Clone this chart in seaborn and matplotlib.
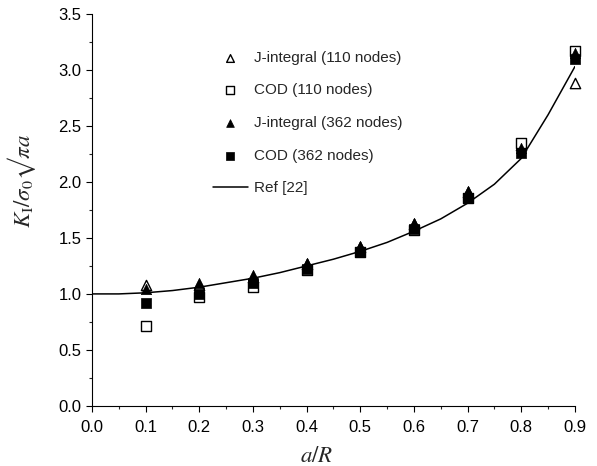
import matplotlib
matplotlib.use("Agg")
import matplotlib.pyplot as plt
import numpy as np
import pandas as pd
import seaborn as sns
from matplotlib.ticker import MultipleLocator, FormatStrFormatter

# a/R values where the FEM results were computed
a_r = [0.1, 0.2, 0.3, 0.4, 0.5, 0.6, 0.7, 0.8, 0.9]
j_110 = [1.08, 1.08, 1.15, 1.27, 1.42, 1.62, 1.91, 2.33, 2.88]
cod_110 = [0.71, 0.97, 1.06, 1.21, 1.37, 1.57, 1.86, 2.35, 3.17]
j_362 = [1.04, 1.10, 1.17, 1.28, 1.43, 1.63, 1.92, 2.30, 3.15]
cod_362 = [0.92, 1.00, 1.10, 1.22, 1.37, 1.58, 1.86, 2.26, 3.10]

# reference solution curve
ref_x = [0.0, 0.05, 0.1, 0.15, 0.2, 0.25, 0.3, 0.35, 0.4, 0.45, 0.5,
         0.55, 0.6, 0.65, 0.7, 0.75, 0.8, 0.85, 0.9]
ref_y = [1.0, 1.0, 1.01, 1.03, 1.06, 1.10, 1.14, 1.19, 1.25, 1.31, 1.38,
         1.46, 1.56, 1.67, 1.81, 1.98, 2.21, 2.60, 3.03]

sns.set_style("ticks")
plt.rcParams['font.family'] = ['Liberation Sans', 'DejaVu Sans']
plt.rcParams['mathtext.fontset'] = 'stix'

fig = plt.figure(figsize=(5.97, 4.66), dpi=100)
ax = fig.add_axes([0.154, 0.129, 0.809, 0.841])

ms = 55
sns.scatterplot(x=a_r, y=j_110, marker='^', s=ms, facecolor='white',
                edgecolor='black', linewidth=1.0, ax=ax, clip_on=False,
                label='J-integral (110 nodes)', zorder=3)
sns.scatterplot(x=a_r, y=cod_110, marker='s', s=ms, facecolor='white',
                edgecolor='black', linewidth=1.0, ax=ax, clip_on=False,
                label='COD (110 nodes)', zorder=3)
sns.scatterplot(x=a_r, y=j_362, marker='^', s=ms, color='black',
                edgecolor='black', linewidth=0.5, ax=ax, clip_on=False,
                label='J-integral (362 nodes)', zorder=4)
sns.scatterplot(x=a_r, y=cod_362, marker='s', s=ms, color='black',
                edgecolor='black', linewidth=0.5, ax=ax, clip_on=False,
                label='COD (362 nodes)', zorder=4)
sns.lineplot(x=ref_x, y=ref_y, color='black', linewidth=1.1, ax=ax,
             label='Ref [22]', zorder=2)

ax.set_xlim(0, 0.9)
ax.set_ylim(0, 3.5)
ax.xaxis.set_major_locator(MultipleLocator(0.1))
ax.xaxis.set_minor_locator(MultipleLocator(0.05))
ax.yaxis.set_major_locator(MultipleLocator(0.5))
ax.yaxis.set_minor_locator(MultipleLocator(0.25))
ax.xaxis.set_major_formatter(FormatStrFormatter('%.1f'))
ax.yaxis.set_major_formatter(FormatStrFormatter('%.1f'))
ax.tick_params(which='major', direction='out', length=4, width=0.8,
               labelsize=12, colors='black')
ax.tick_params(which='minor', direction='out', length=2.5, width=0.8)
ax.tick_params(axis='x', which='major', pad=6.5)
for s in ['left', 'bottom']:
    ax.spines[s].set_color('black')
    ax.spines[s].set_linewidth(0.8)
sns.despine(ax=ax)

ax.set_ylabel(r'$K_{\mathrm{I}}/\sigma_0$' + '\u221a' + r'$\pi a$',
              fontsize=16.5, family='STIXGeneral')
ax.yaxis.set_label_coords(-0.112, 0.574)
ax.set_xlabel(r'$a/R$', fontsize=16.5)
ax.xaxis.set_label_coords(0.465, -0.098)

leg = ax.legend(loc='upper left', bbox_to_anchor=(0.237, 0.922), frameon=False,
                fontsize=11, handlelength=2.35, handletextpad=0.35,
                labelspacing=1.22, borderaxespad=0, markerscale=0.75)

fig.savefig('out.png', dpi=100)
